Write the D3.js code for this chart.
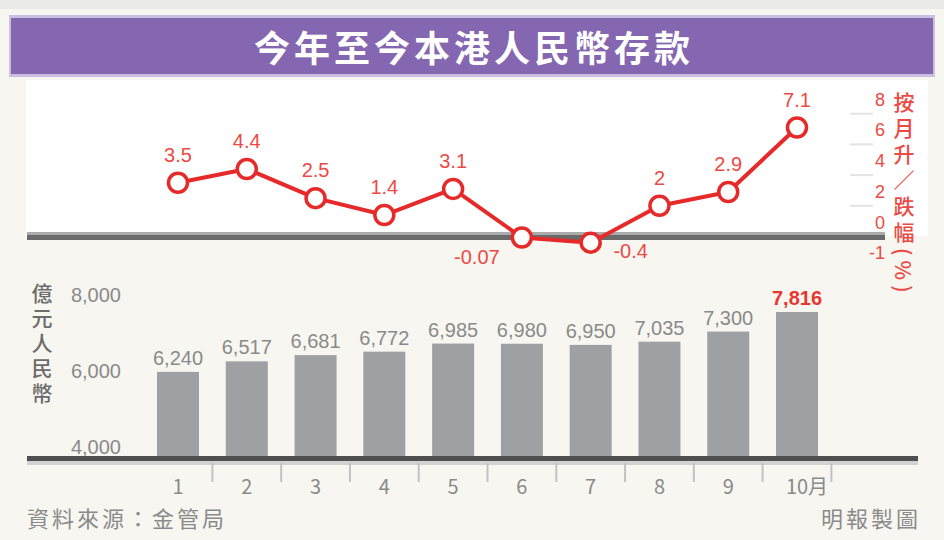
<!DOCTYPE html>
<html>
<head>
<meta charset="utf-8">
<script src="https://cdn.jsdelivr.net/npm/d3@7"></script>
<style>
  html, body { margin: 0; padding: 0; background: #f8f6f1; }
  svg { display: block; }
</style>
</head>
<body>
<svg id="chart" width="944" height="540"></svg>
<script>
// ---------- data ----------
const title = "今年至今本港人民幣存款";
const months = ["1", "2", "3", "4", "5", "6", "7", "8", "9", "10"];
const monthLabels = ["1", "2", "3", "4", "5", "6", "7", "8", "9", "10月"];
const changePct = [3.5, 4.4, 2.5, 1.4, 3.1, -0.07, -0.4, 2, 2.9, 7.1];
const deposits = [6240, 6517, 6681, 6772, 6985, 6980, 6950, 7035, 7300, 7816];
const depositTicks = [4000, 6000, 8000];
const pctTicks = [8, 6, 4, 2, 0, -1];
const pctAxisTitle = "按月升／跌幅(%)";
const depositAxisTitle = "億元人民幣";
const sourceText = "資料來源：金管局";
const creditText = "明報製圖";

// ---------- styles ----------
const CJK = "'Noto Sans CJK TC', 'Noto Sans CJK SC', sans-serif";
const NUM = "'Liberation Sans', Arial, 'DejaVu Sans', sans-serif";
const RED = "#e62a2a";
const LABEL_RED = "#ec4a44";
const GREY_TXT = "#8a8a8a";

const svg = d3.select("#chart");

// backgrounds
svg.append("rect").attr("x", 0).attr("y", 0).attr("width", 944).attr("height", 540).attr("fill", "#f8f6f1");
svg.append("rect").attr("x", 0).attr("y", 0).attr("width", 944).attr("height", 9).attr("fill", "#eaeae8");

// title bar
svg.append("rect").attr("x", 9).attr("y", 15).attr("width", 926).attr("height", 62).attr("fill", "#cbbfe1");
svg.append("rect").attr("x", 11).attr("y", 18).attr("width", 922).attr("height", 56).attr("fill", "#8567b1");
svg.append("text")
  .attr("x", 474).attr("y", 46)
  .attr("text-anchor", "middle").attr("dominant-baseline", "central")
  .attr("font-family", CJK).attr("font-weight", 700).attr("font-size", 36)
  .attr("letter-spacing", 4)
  .attr("fill", "#ffffff")
  .text(title);

// upper white panel
svg.append("rect").attr("x", 26).attr("y", 80).attr("width", 902).attr("height", 156).attr("fill", "#ffffff");

// ---------- scales ----------
const x = d3.scalePoint().domain(months).range([178, 797]);
const step = x.step();
const barW = 42;

const yPct = d3.scaleLinear().domain([-1, 8]).range([251.85, 113.7]);
const yDep = d3.scaleLinear().domain([4000, 8000]).range([457, 305]);

// ---------- upper zero axis ----------
svg.append("rect").attr("x", 27).attr("y", 232).attr("width", 858).attr("height", 3).attr("fill", "#ababab");
svg.append("rect").attr("x", 27).attr("y", 235).attr("width", 858).attr("height", 5).attr("fill", "#6a6a6a");

// right axis ticks (percentage)
const pctAxis = svg.append("g");
pctAxis.selectAll("line").data(pctTicks.filter(t => t > 0)).join("line")
  .attr("x1", 850).attr("x2", 873)
  .attr("y1", d => yPct(d)).attr("y2", d => yPct(d))
  .attr("stroke", "#e3e3e3").attr("stroke-width", 2);
pctAxis.selectAll("text").data(pctTicks).join("text")
  .attr("x", 885)
  .attr("y", d => d >= 0 ? yPct(d) - 14 : yPct(d) + 1)
  .attr("text-anchor", "end").attr("dominant-baseline", "central")
  .attr("font-family", NUM).attr("font-size", 18)
  .attr("fill", LABEL_RED)
  .text(d => d);

svg.append("text")
  .attr("x", 904).attr("y", 92)
  .attr("style", "writing-mode: vertical-rl; text-orientation: mixed;")
  .attr("font-family", CJK).attr("font-size", 21).attr("font-weight", 500)
  .attr("letter-spacing", 5)
  .attr("fill", LABEL_RED)
  .text(pctAxisTitle);

// ---------- bars ----------
const bars = svg.append("g");
bars.selectAll("rect").data(deposits).join("rect")
  .attr("x", (d, i) => x(months[i]) - barW / 2)
  .attr("y", d => yDep(d))
  .attr("width", barW)
  .attr("height", d => yDep(4000) - yDep(d))
  .attr("fill", "#9fa0a4");

bars.selectAll("text").data(deposits).join("text")
  .attr("x", (d, i) => x(months[i]))
  .attr("y", d => yDep(d) - 14)
  .attr("text-anchor", "middle").attr("dominant-baseline", "central")
  .attr("font-family", NUM).attr("font-size", 20)
  .attr("font-weight", (d, i) => i === deposits.length - 1 ? 700 : 400)
  .attr("fill", (d, i) => i === deposits.length - 1 ? "#e8372f" : GREY_TXT)
  .text(d => d3.format(",")(d));

// left axis labels
svg.append("g").selectAll("text").data(depositTicks).join("text")
  .attr("x", 121).attr("y", d => yDep(d) - 10)
  .attr("text-anchor", "end").attr("dominant-baseline", "central")
  .attr("font-family", NUM).attr("font-size", 20)
  .attr("fill", GREY_TXT)
  .text(d => d3.format(",")(d));

svg.append("text")
  .attr("x", 42).attr("y", 283)
  .attr("style", "writing-mode: vertical-rl; text-orientation: mixed;")
  .attr("font-family", CJK).attr("font-size", 21).attr("font-weight", 500)
  .attr("letter-spacing", 4)
  .attr("fill", "#6c6c6c")
  .text(depositAxisTitle);

// bottom axis
svg.append("rect").attr("x", 27).attr("y", 456).attr("width", 891).attr("height", 5).attr("fill", "#4f4f4f");
svg.append("rect").attr("x", 27).attr("y", 461).attr("width", 891).attr("height", 4).attr("fill", "#d2d2d2");

svg.append("g").selectAll("line").data(months).join("line")
  .attr("x1", d => x(d) + step / 2).attr("x2", d => x(d) + step / 2)
  .attr("y1", 463).attr("y2", 482)
  .attr("stroke", "#c2c2c2").attr("stroke-width", 2);

const xl = svg.append("g");
monthLabels.forEach((lab, i) => {
  const cx = x(months[i]);
  const t = xl.append("text")
    .attr("y", 485)
    .attr("dominant-baseline", "central")
    .attr("font-family", CJK).attr("font-size", 20)
    .attr("fill", GREY_TXT);
  if (lab === months[i]) {
    t.attr("x", cx).attr("text-anchor", "middle").text(lab);
  } else {
    t.attr("text-anchor", "start").text(months[i]);
    const w = t.node().getComputedTextLength();
    t.text(lab).attr("x", cx - w / 2);
  }
});

// ---------- line ----------
const line = d3.line()
  .x((d, i) => x(months[i]))
  .y(d => yPct(d));

svg.append("path")
  .datum(changePct)
  .attr("d", line)
  .attr("fill", "none")
  .attr("stroke", RED)
  .attr("stroke-width", 4)
  .attr("stroke-linejoin", "round");

svg.append("g").selectAll("circle").data(changePct).join("circle")
  .attr("cx", (d, i) => x(months[i]))
  .attr("cy", d => yPct(d))
  .attr("r", 9.5)
  .attr("fill", "#ffffff")
  .attr("stroke", RED)
  .attr("stroke-width", 3.5);

svg.append("g").selectAll("text").data(changePct).join("text")
  .attr("x", (d, i) => {
    const cx = x(months[i]);
    if (d >= 0) return cx;
    return (i > 0 && changePct[i - 1] >= 0) ? cx - 45 : cx + 40;
  })
  .attr("y", (d, i) => {
    if (d >= 0) return yPct(d) - 28;
    return (i > 0 && changePct[i - 1] >= 0) ? yPct(d) + 19 : yPct(d) + 8;
  })
  .attr("text-anchor", "middle").attr("dominant-baseline", "central")
  .attr("font-family", NUM).attr("font-size", 20)
  .attr("fill", LABEL_RED)
  .text(d => String(d));

// ---------- footer ----------
svg.append("text")
  .attr("x", 27).attr("y", 517)
  .attr("dominant-baseline", "central")
  .attr("font-family", CJK).attr("font-size", 22)
  .attr("letter-spacing", 3)
  .attr("fill", GREY_TXT)
  .text(sourceText);

svg.append("text")
  .attr("x", 921).attr("y", 517)
  .attr("text-anchor", "end").attr("dominant-baseline", "central")
  .attr("font-family", CJK).attr("font-size", 22)
  .attr("letter-spacing", 3)
  .attr("fill", GREY_TXT)
  .text(creditText);
</script>
</body>
</html>
